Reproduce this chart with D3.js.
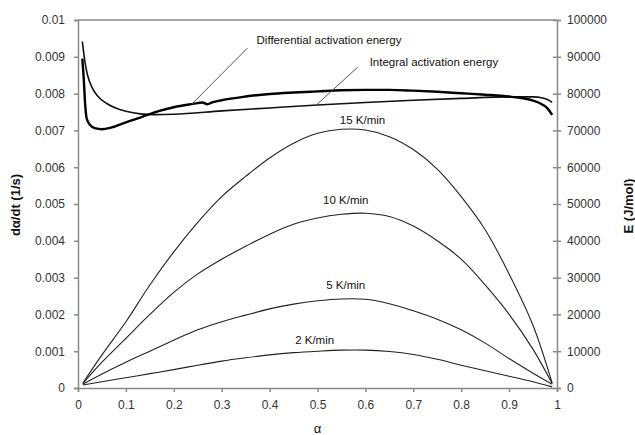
<!DOCTYPE html>
<html>
<head>
  <meta charset="UTF-8">
  <script src="https://d3js.org/d3.v7.min.js"></script>
</head>
<body style="margin:0;background:#fff">
  <svg id="chart"></svg>
<style>
  text { font-family: 'Liberation Sans', Arial, sans-serif; fill: #222; }
  .tick text { font-size: 12px; fill: #333; }
  .tick line, .domain { stroke: #8a8a8a; }
  .ttl { font-weight: bold; font-size: 13px; fill: #111; }
  .lbl { font-size: 11.5px; fill: #111; }
</style>
<script>
  // --- data ---
  const alphaRate = [0.01, 0.05, 0.1, 0.15, 0.2, 0.25, 0.3, 0.35, 0.4, 0.45, 0.5,
                     0.55, 0.6, 0.65, 0.7, 0.75, 0.8, 0.85, 0.9, 0.95, 0.99];
  const rate15 = [0.00013, 0.0009, 0.0018, 0.0028, 0.0037, 0.0045, 0.0052, 0.00575, 0.00625, 0.00665, 0.00692,
                  0.00703, 0.00701, 0.00683, 0.00648, 0.00595, 0.0052, 0.0043, 0.0031, 0.0017, 0.00013];
  const rate10 = [0.00012, 0.0007, 0.00135, 0.002, 0.0026, 0.0031, 0.0035, 0.00385, 0.00418, 0.00445, 0.00462,
                  0.00472, 0.00475, 0.00466, 0.0044, 0.004, 0.0035, 0.0028, 0.002, 0.00105, 0.00012];
  const rate5 = [0.0001, 0.00038, 0.0007, 0.001, 0.0013, 0.00158, 0.0018, 0.00198, 0.00215, 0.00228, 0.00237,
                 0.00242, 0.00241, 0.00229, 0.0021, 0.00187, 0.00158, 0.00122, 0.0008, 0.0004, 0.0001];
  const rate2 = [0.00008, 0.00017, 0.00028, 0.00039, 0.0005, 0.00062, 0.00073, 0.00082, 0.0009, 0.00096, 0.001,
                 0.00103, 0.00103, 0.00099, 0.00091, 0.00078, 0.00062, 0.00047, 0.00032, 0.00017, 0.00003];
  const rateNames = ['15 K/min', '10 K/min', '5 K/min', '2 K/min'];
  // label anchor (alpha, rate) for each curve name
  const rateLabelPos = [[0.594, 0.00717], [0.559, 0.0050], [0.559, 0.00269], [0.494, 0.0012]];

  const alphaDiff = [0.009, 0.012, 0.015, 0.018, 0.025, 0.035, 0.05, 0.07, 0.1, 0.13, 0.17, 0.2, 0.24, 0.26, 0.27,
                     0.28, 0.3, 0.35, 0.4, 0.45, 0.5, 0.55, 0.6, 0.65, 0.7, 0.75, 0.8, 0.85, 0.9, 0.93, 0.95, 0.97, 0.98, 0.99];
  const eDiff = [89500, 84000, 77000, 73300, 71500, 70600, 70300, 70800, 72200, 73500, 75300, 76300, 77200, 77600, 77100,
                 77600, 78200, 79200, 79900, 80300, 80600, 80900, 81000, 81000, 80800, 80500, 80100, 79700, 79200, 78700, 78100, 77000, 76000, 74200];
  const alphaInt = [0.009, 0.012, 0.015, 0.02, 0.03, 0.04, 0.06, 0.08, 0.1, 0.13, 0.16, 0.2, 0.3, 0.4, 0.5, 0.6, 0.7,
                    0.8, 0.9, 0.95, 0.97, 0.98, 0.99];
  const eInt = [94200, 91000, 88200, 85000, 81500, 79500, 77300, 76000, 75200, 74500, 74300, 74400, 75300, 76100, 76900, 77600, 78200,
                78700, 79100, 79100, 78800, 78400, 77600];

  const xTicks = [0, 0.1, 0.2, 0.3, 0.4, 0.5, 0.6, 0.7, 0.8, 0.9, 1];
  const yTicks = [0, 0.001, 0.002, 0.003, 0.004, 0.005, 0.006, 0.007, 0.008, 0.009, 0.01];
  const eTicks = [0, 10000, 20000, 30000, 40000, 50000, 60000, 70000, 80000, 90000, 100000];

  // --- layout ---
  const W = 635, H = 435;
  const margin = {top: 20, right: 78, bottom: 47, left: 78};
  const svg = d3.select('#chart').attr('width', W).attr('height', H);

  const x = d3.scaleLinear().domain([0, 1]).range([margin.left, W - margin.right]);
  const y = d3.scaleLinear().domain([0, 0.01]).range([H - margin.bottom, margin.top]);
  const yE = d3.scaleLinear().domain([0, 100000]).range([H - margin.bottom, margin.top]);

  // frame top line
  svg.append('line')
    .attr('x1', x(0)).attr('x2', x(1)).attr('y1', y(0.01)).attr('y2', y(0.01))
    .attr('stroke', '#8a8a8a').attr('stroke-width', 1.5);

  svg.append('g').attr('transform', `translate(0,${y(0)})`)
    .call(d3.axisBottom(x).tickValues(xTicks).tickFormat(d3.format('')).tickSize(4).tickPadding(8))
    .call(g => g.selectAll('.domain,line').attr('stroke-width', 1.5));
  svg.append('g').attr('transform', `translate(${x(0)},0)`)
    .call(d3.axisLeft(y).tickValues(yTicks).tickFormat(d3.format('')).tickSize(4).tickPadding(9))
    .call(g => g.selectAll('.domain,line').attr('stroke-width', 1.5));
  svg.append('g').attr('transform', `translate(${x(1)},0)`)
    .call(d3.axisRight(yE).tickValues(eTicks).tickFormat(d3.format('')).tickSize(4).tickPadding(6))
    .call(g => g.selectAll('.tick line').attr('x1', -4))
    .call(g => g.selectAll('.domain,line').attr('stroke-width', 1.5));

  // axis titles
  svg.append('text').attr('class', 'ttl')
    .attr('transform', `translate(20,${(y(0) + y(0.01)) / 2 + 1}) rotate(-90)`)
    .attr('text-anchor', 'middle').text('dα/dt (1/s)');
  svg.append('text').attr('class', 'ttl')
    .attr('transform', `translate(633,${(y(0) + y(0.01)) / 2 + 2}) rotate(-90)`)
    .attr('text-anchor', 'middle').text('E (J/mol)');
  svg.append('text').attr('class', 'lbl').style('font-size', '13px')
    .attr('x', x(0.5)).attr('y', H - 2).attr('text-anchor', 'middle').text('α');

  // rate curves
  const rateLine = d3.line().x((d, i) => x(alphaRate[i])).y(d => y(d)).curve(d3.curveCatmullRom.alpha(0.5));
  [rate15, rate10, rate5, rate2].forEach((s, k) => {
    svg.append('path').attr('d', rateLine(s))
      .attr('fill', 'none').attr('stroke', '#222').attr('stroke-width', 1.1);
    svg.append('text').attr('class', 'lbl')
      .attr('x', x(rateLabelPos[k][0])).attr('y', y(rateLabelPos[k][1]))
      .attr('text-anchor', 'middle').text(rateNames[k]);
  });

  // activation energy curves
  const eLine = (xs) => d3.line().x((d, i) => x(xs[i])).y(d => yE(d)).curve(d3.curveMonotoneX);
  svg.append('path').attr('d', eLine(alphaInt)(eInt))
    .attr('fill', 'none').attr('stroke', '#111').attr('stroke-width', 1.6);
  svg.append('path').attr('d', eLine(alphaDiff)(eDiff))
    .attr('fill', 'none').attr('stroke', '#000').attr('stroke-width', 2.4);

  // annotations
  const notes = [
    {text: 'Differential activation energy', tx: 0.524, tE: 93500, from: [0.354, 92400], to: [0.238, 77200]},
    {text: 'Integral activation energy', tx: 0.743, tE: 87500, from: [0.584, 87200], to: [0.496, 76700]}
  ];
  notes.forEach(n => {
    svg.append('line')
      .attr('x1', x(n.from[0])).attr('y1', yE(n.from[1]))
      .attr('x2', x(n.to[0])).attr('y2', yE(n.to[1]))
      .attr('stroke', '#555').attr('stroke-width', 1);
    svg.append('text').attr('class', 'lbl')
      .attr('x', x(n.tx)).attr('y', yE(n.tE)).attr('text-anchor', 'middle').text(n.text);
  });
</script>
</body>
</html>
